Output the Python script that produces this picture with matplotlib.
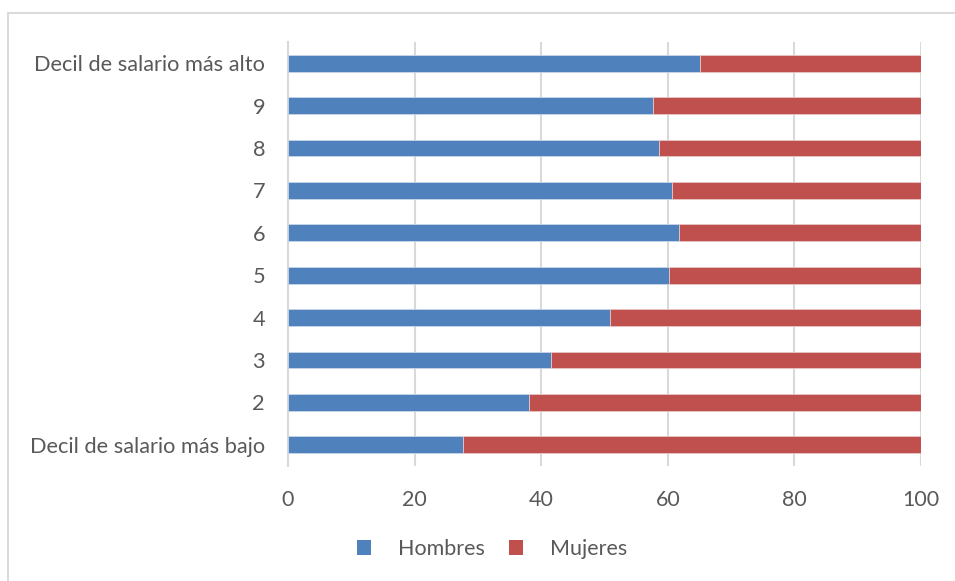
import matplotlib
matplotlib.use("Agg")
import matplotlib.pyplot as plt
from matplotlib.patches import Rectangle

categories = ["Decil de salario más bajo", "2", "3", "4", "5", "6", "7", "8", "9",
              "Decil de salario más alto"]
hombres = [27.7, 38.1, 41.6, 50.8, 60.2, 61.7, 60.6, 58.6, 57.7, 65.1]
mujeres = [100 - h for h in hombres]
xticks = [0, 20, 40, 60, 80, 100]

blue = "#4F81BD"
red = "#C0504D"
text_col = "#595959"
grid_col = "#D9D9D9"

plt.rcParams['font.family'] = ['Lato', 'DejaVu Sans']

fig = plt.figure(figsize=(9.55, 5.81), dpi=100)
W, H = 955, 581

# chart frame (runs off the right and bottom edges)
fig.patches.append(Rectangle((7.5 / W, -0.1), 1.2, 1.1 - 13 / H, transform=fig.transFigure,
                             fill=False, edgecolor="#D9D9D9", linewidth=1.4))

ax = fig.add_axes([288 / W, 1 - 466 / H, (921 - 288) / W, (466 - 42) / H])
y = list(range(len(categories)))
ax.barh(y, hombres, height=0.4, color=blue, edgecolor="#c9d6ea", linewidth=0.6,
        label="Hombres", zorder=3)
ax.barh(y, mujeres, left=hombres, height=0.4, color=red, edgecolor="#e8c6c5",
        linewidth=0.6, label="Mujeres", zorder=3)

ax.set_xlim(0, 100)
ax.set_ylim(-0.5, len(categories) - 0.5)
ax.set_xticks(xticks)
ax.set_xticklabels([str(t) for t in xticks])
ax.set_yticks(y)
ax.set_yticklabels(categories)
ax.xaxis.grid(True, color=grid_col, linewidth=1.5, zorder=0)
ax.tick_params(axis='x', length=0, pad=17, labelsize=15.5, labelcolor=text_col)
ax.tick_params(axis='y', length=0, pad=16.5, labelsize=15.7, labelcolor=text_col)
for s in ["top", "right", "bottom"]:
    ax.spines[s].set_visible(False)
ax.spines["left"].set_color(grid_col)
ax.spines["left"].set_linewidth(1.5)

handles, labels = ax.get_legend_handles_labels()
leg = fig.legend(handles, labels, loc="center", bbox_to_anchor=(492 / W, 1 - 549 / H),
                 ncol=2, frameon=False, fontsize=15.5, labelcolor=text_col,
                 handlelength=0.65, handleheight=0.65, handletextpad=1.25, columnspacing=1.15)
for p in leg.get_patches():
    p.set_edgecolor("none")

fig.savefig("out.png", dpi=100, facecolor="white")
